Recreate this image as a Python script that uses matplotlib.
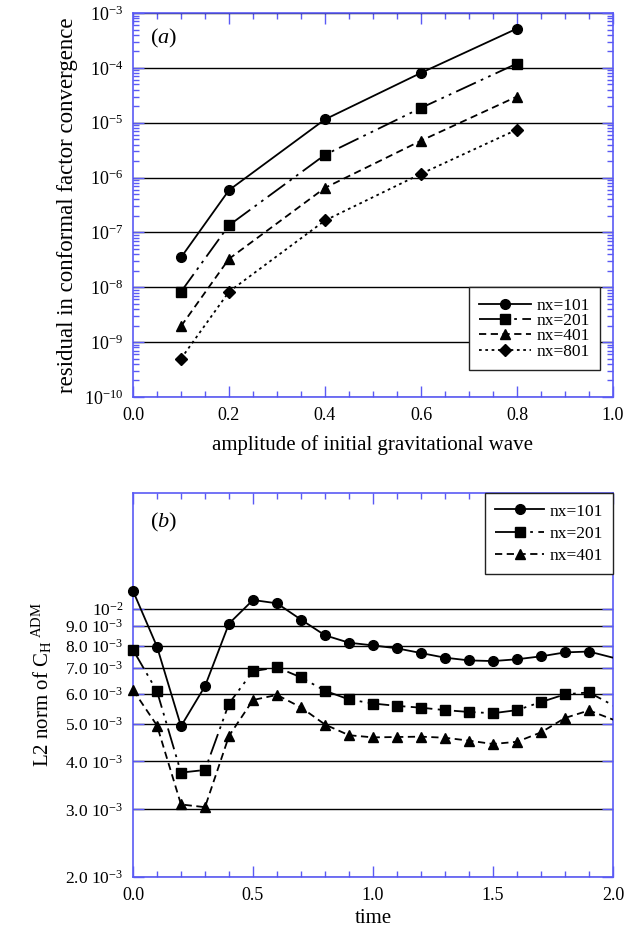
import matplotlib.pyplot as plt
from matplotlib.ticker import MultipleLocator, LogLocator, NullLocator, NullFormatter

plt.rcParams['font.family'] = 'Liberation Serif'
plt.rcParams['mathtext.fontset'] = 'custom'
plt.rcParams['mathtext.rm'] = 'Liberation Serif'
plt.rcParams['mathtext.it'] = 'Liberation Serif:italic'

# ---- data: panel (a) ----
amp = [0.1, 0.2, 0.4, 0.6, 0.8]
res_101 = [3.5e-8, 5.9e-7, 1.15e-5, 8.1e-5, 5.2e-4]
res_201 = [8.3e-9, 1.35e-7, 2.6e-6, 1.86e-5, 1.2e-4]
res_401 = [1.95e-9, 3.3e-8, 6.5e-7, 4.7e-6, 3.0e-5]
res_801 = [5.0e-10, 8.3e-9, 1.65e-7, 1.17e-6, 7.5e-6]

# ---- data: panel (b) ----
time = [0.0, 0.1, 0.2, 0.3, 0.4, 0.5, 0.6, 0.7, 0.8, 0.9, 1.0,
        1.1, 1.2, 1.3, 1.4, 1.5, 1.6, 1.7, 1.8, 1.9, 2.0, 2.1]
l2_101 = [11.12e-3, 7.96e-3, 4.94e-3, 6.28e-3, 9.14e-3, 10.53e-3, 10.32e-3, 9.36e-3,
          8.52e-3, 8.15e-3, 8.02e-3, 7.88e-3, 7.66e-3, 7.45e-3, 7.33e-3, 7.30e-3,
          7.38e-3, 7.51e-3, 7.69e-3, 7.73e-3, 7.45e-3, 7.18e-3]
l2_201 = [7.81e-3, 6.09e-3, 3.74e-3, 3.80e-3, 5.66e-3, 6.87e-3, 7.03e-3, 6.62e-3,
          6.11e-3, 5.80e-3, 5.66e-3, 5.58e-3, 5.52e-3, 5.44e-3, 5.38e-3, 5.34e-3,
          5.44e-3, 5.71e-3, 5.98e-3, 6.05e-3, 5.60e-3, 5.18e-3]
l2_401 = [6.14e-3, 4.96e-3, 3.09e-3, 3.04e-3, 4.66e-3, 5.78e-3, 5.96e-3, 5.53e-3,
          4.99e-3, 4.68e-3, 4.62e-3, 4.63e-3, 4.64e-3, 4.61e-3, 4.53e-3, 4.44e-3,
          4.50e-3, 4.76e-3, 5.19e-3, 5.43e-3, 5.14e-3, 4.87e-3]
b_ticks = [2e-3, 3e-3, 4e-3, 5e-3, 6e-3, 7e-3, 8e-3, 9e-3, 1e-2]
b_labels = [r"2.0 10$^{-3}$", r"3.0 10$^{-3}$", r"4.0 10$^{-3}$", r"5.0 10$^{-3}$",
            r"6.0 10$^{-3}$", r"7.0 10$^{-3}$", r"8.0 10$^{-3}$", r"9.0 10$^{-3}$",
            r"10$^{-2}$"]

BLUE = '#5a5af5'
dashdotdot = (0, (12, 3, 1.5, 3, 1.5, 3))
styles = {
    'nx=101': dict(ls='-', marker='o'),
    'nx=201': dict(ls=dashdotdot, marker='s'),
    'nx=401': dict(ls=(0, (4, 2.5)), marker='^'),
    'nx=801': dict(ls=(0, (1.5, 2)), marker='D'),
}
msize = {'o': 7, 's': 7, '^': 6.5, 'D': 6}

fig = plt.figure(figsize=(6.24, 9.34), dpi=100)
W, H = 624, 934
ax1 = fig.add_axes([133 / W, 1 - 397 / H, 480 / W, 384 / H])
ax2 = fig.add_axes([133 / W, 1 - 877 / H, 480 / W, 384 / H])


def style_axes(ax):
    for s in ax.spines.values():
        s.set_color(BLUE)
        s.set_linewidth(1.2)
    ax.tick_params(which='both', direction='in', color=BLUE, top=True, right=True,
                   labelsize=13, pad=7)
    ax.tick_params(which='major', length=8, width=1)
    ax.tick_params(which='minor', length=4.5, width=1)


def plot_series(ax, x, y, key, xmax):
    st = styles[key]
    ax.plot(x, y, color='k', lw=1.3, ls=st['ls'], zorder=3)
    # markers only for points inside the plotted range (last one sits past the edge)
    xm = [a for a in x if a < xmax - 1e-9]
    ym = y[:len(xm)]
    ax.plot(xm, ym, ls='none', marker=st['marker'], ms=msize[st['marker']],
            color='k', clip_on=False, zorder=4)
    # legend proxy
    ax.plot([], [], color='k', lw=1.3, ls=st['ls'], marker=st['marker'],
            ms=msize[st['marker']], label=key)


# ---- panel (a) ----
for key, y in [('nx=101', res_101), ('nx=201', res_201),
               ('nx=401', res_401), ('nx=801', res_801)]:
    plot_series(ax1, amp, y, key, 1.0)

ax1.set_yscale('log')
ax1.set_xlim(0, 1.0)
ax1.set_ylim(1e-10, 1e-3)
ax1.xaxis.set_major_locator(MultipleLocator(0.2))
ax1.xaxis.set_minor_locator(MultipleLocator(0.05))
ax1.xaxis.set_major_formatter(lambda v, p: f"{v:.1f}")
ax1.yaxis.set_major_locator(LogLocator(base=10, numticks=20))
ax1.yaxis.set_minor_locator(LogLocator(base=10, subs=range(2, 10), numticks=20))
ax1.yaxis.set_minor_formatter(NullFormatter())
ax1.yaxis.grid(True, which='major', color='k', lw=1)
style_axes(ax1)
ax1.set_xlabel("amplitude of initial gravitational wave", fontsize=15, labelpad=8)
ax1.set_ylabel("residual in conformal factor convergence", fontsize=16.5, labelpad=4)
ax1.text(0.035, 0.92, r"($a$)", transform=ax1.transAxes, fontsize=16)
leg1 = ax1.legend(loc='lower right', bbox_to_anchor=(0.973, 0.070), borderaxespad=0,
                  numpoints=1, fontsize=12.5, handlelength=3.0, labelspacing=-0.05,
                  handletextpad=0.3, fancybox=False, framealpha=1, borderpad=0.6)
leg1.get_frame().set_edgecolor('#222222')
leg1.get_frame().set_linewidth(1)

# ---- panel (b) ----
for key, y in [('nx=101', l2_101), ('nx=201', l2_201), ('nx=401', l2_401)]:
    plot_series(ax2, time, y, key, 2.0)

ax2.set_yscale('log')
ax2.set_xlim(0, 2.0)
ax2.set_ylim(2e-3, 2e-2)
ax2.xaxis.set_major_locator(MultipleLocator(0.5))
ax2.xaxis.set_minor_locator(MultipleLocator(0.1))
ax2.xaxis.set_major_formatter(lambda v, p: f"{v:.1f}")
ax2.set_yticks(b_ticks, b_labels)
ax2.yaxis.set_minor_locator(NullLocator())
ax2.yaxis.grid(True, which='major', color='k', lw=1)
style_axes(ax2)
ax2.tick_params(axis='y', labelsize=12.5)
ax2.set_xlabel("time", fontsize=15, labelpad=4)
ax2.set_ylabel(r"L2 norm of C$_{\mathrm{H}}{}^{\ \mathrm{ADM}}$", fontsize=15, labelpad=8)
ax2.text(0.035, 0.91, r"($b$)", transform=ax2.transAxes, fontsize=16)
leg2 = ax2.legend(loc='upper right', bbox_to_anchor=(1.0, 1.0), borderaxespad=0,
                  numpoints=1, fontsize=12.5, handlelength=2.8, labelspacing=0.35,
                  handletextpad=0.3, fancybox=False, framealpha=1, borderpad=0.6)
leg2.get_frame().set_edgecolor('#222222')
leg2.get_frame().set_linewidth(1)

fig.savefig("out.png", dpi=100)
